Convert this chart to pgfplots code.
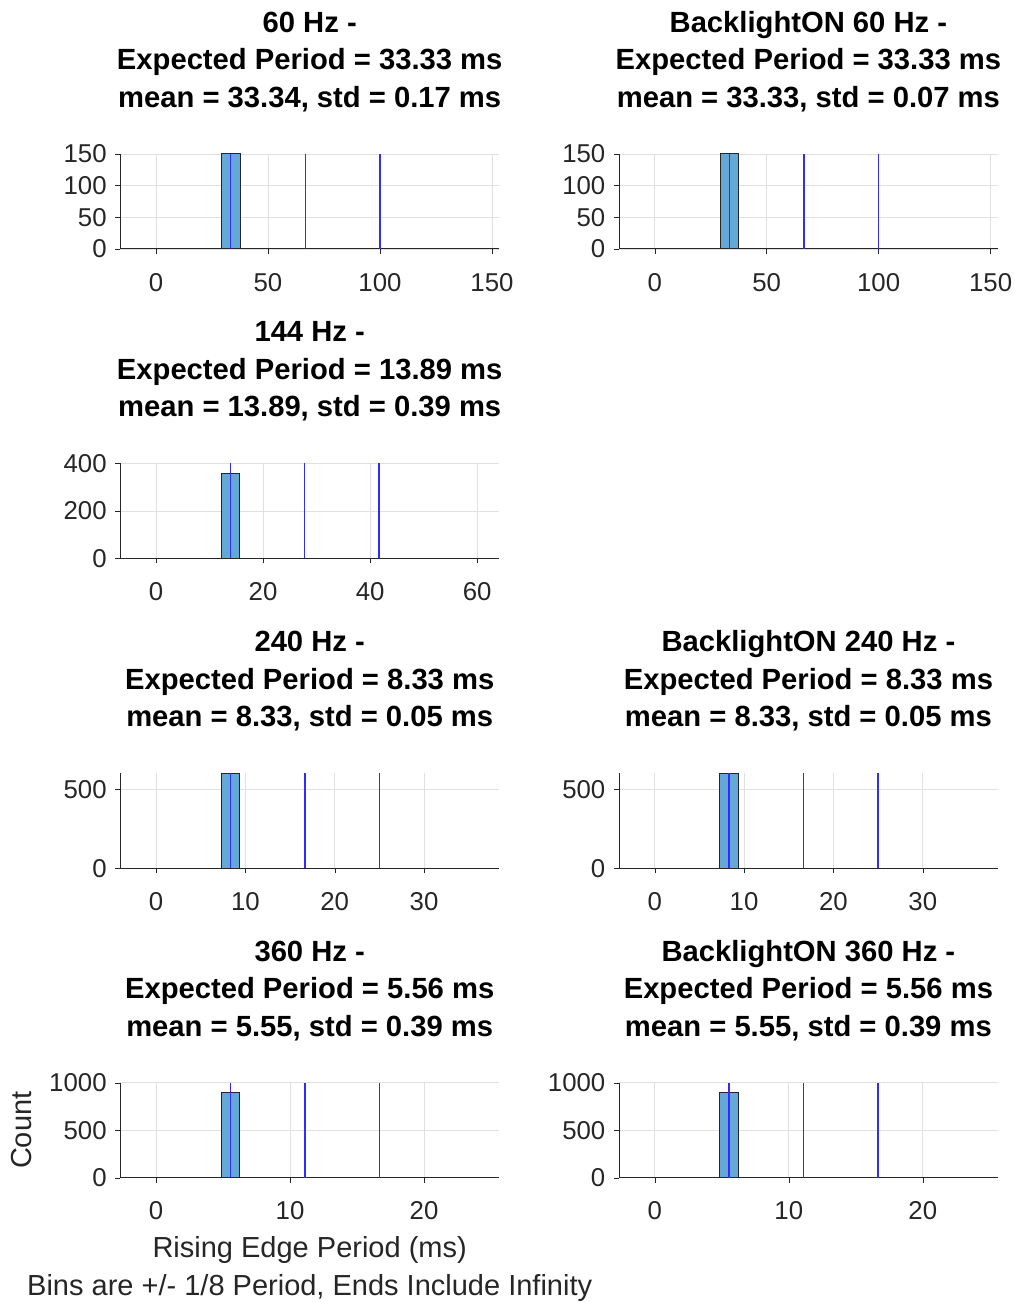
\documentclass[border=0pt]{standalone}
\usepackage{fontspec}
\setmainfont{Liberation Sans}
\usepackage{pgfplots}
\pgfplotsset{compat=1.18}
\definecolor{barfill}{RGB}{100,168,216}
\definecolor{refline}{RGB}{45,45,255}
\definecolor{axgray}{RGB}{38,38,38}
\pgfplotsset{
 hist/.style={
  scale only axis, width=189.4pt, height=47.5pt,
  axis lines*=left, axis line style={axgray, line width=0.5pt},
  grid=major, major grid style={black!12, line width=0.4pt},
  tick align=outside, major tick length=2.5pt, tick style={axgray},
  ymin=0, clip=false,
  ticklabel style={font=\fontsize{12.9}{15}\selectfont, text=axgray},
  xticklabel style={yshift=-6pt}, yticklabel style={xshift=-0.8pt},
  /pgf/number format/assume math mode=true,
  /pgf/number format/1000 sep={},
  scaled ticks=false,
  title style={at={(0.5,1)}, anchor=south, inner sep=0pt, yshift=14.8pt, align=center, font=\fontsize{14.6}{18.75}\selectfont\bfseries},
 },
 barst/.style={fill=barfill, draw=black!85, line width=0.5pt},
 refst/.style={refline, line width=0.8pt},
}
\begin{document}
\begin{tikzpicture}
\useasboundingbox (0,0) rectangle (507.5pt,651pt);
% Row 1 left: 60 Hz
\begin{axis}[hist, at={(60.15pt,526.5pt)}, xmin=-15.95, xmax=153.2, ymax=150,
  xtick={0,50,100,150}, ytick={0,50,100,150},
  title={60 Hz -\\Expected Period = 33.33 ms\\mean = 33.34, std = 0.17 ms}]
\addplot[barst] coordinates {(29.167,0) (29.167,150) (37.5,150) (37.5,0)} -- cycle;
\addplot[refst] coordinates {(33.333,0) (33.333,150)};
\addplot[refst] coordinates {(66.667,0) (66.667,150)};
\addplot[refst] coordinates {(100,0) (100,150)};
\end{axis}
% Row 1 right: BacklightON 60 Hz
\begin{axis}[hist, at={(309.5pt,526.5pt)}, xmin=-15.95, xmax=153.2, ymax=150,
  xtick={0,50,100,150}, ytick={0,50,100,150},
  title={BacklightON 60 Hz -\\Expected Period = 33.33 ms\\mean = 33.33, std = 0.07 ms}]
\addplot[barst] coordinates {(29.167,0) (29.167,150) (37.5,150) (37.5,0)} -- cycle;
\addplot[refst] coordinates {(33.333,0) (33.333,150)};
\addplot[refst] coordinates {(66.667,0) (66.667,150)};
\addplot[refst] coordinates {(100,0) (100,150)};
\end{axis}
% Row 2 left: 144 Hz
\begin{axis}[hist, at={(60.15pt,371.75pt)}, xmin=-6.67, xmax=64.1, ymax=400,
  xtick={0,20,40,60}, ytick={0,200,400},
  title={144 Hz -\\Expected Period = 13.89 ms\\mean = 13.89, std = 0.39 ms}]
\addplot[barst] coordinates {(12.153,0) (12.153,359) (15.625,359) (15.625,0)} -- cycle;
\addplot[refst] coordinates {(13.889,0) (13.889,400)};
\addplot[refst] coordinates {(27.778,0) (27.778,400)};
\addplot[refst] coordinates {(41.667,0) (41.667,400)};
\end{axis}
% Row 3 left: 240 Hz
\begin{axis}[hist, at={(60.15pt,216.8pt)}, xmin=-4.0, xmax=38.4, ymax=600,
  xtick={0,10,20,30}, ytick={0,500},
  title={240 Hz -\\Expected Period = 8.33 ms\\mean = 8.33, std = 0.05 ms}]
\addplot[barst] coordinates {(7.292,0) (7.292,600) (9.375,600) (9.375,0)} -- cycle;
\addplot[refst] coordinates {(8.333,0) (8.333,600)};
\addplot[refst] coordinates {(16.667,0) (16.667,600)};
\addplot[refst] coordinates {(25,0) (25,600)};
\end{axis}
% Row 3 right: BacklightON 240 Hz
\begin{axis}[hist, at={(309.5pt,216.8pt)}, xmin=-4.0, xmax=38.4, ymax=600,
  xtick={0,10,20,30}, ytick={0,500},
  title={BacklightON 240 Hz -\\Expected Period = 8.33 ms\\mean = 8.33, std = 0.05 ms}]
\addplot[barst] coordinates {(7.292,0) (7.292,600) (9.375,600) (9.375,0)} -- cycle;
\addplot[refst] coordinates {(8.333,0) (8.333,600)};
\addplot[refst] coordinates {(16.667,0) (16.667,600)};
\addplot[refst] coordinates {(25,0) (25,600)};
\end{axis}
% Row 4 left: 360 Hz
\begin{axis}[hist, at={(60.15pt,62.1pt)}, xmin=-2.67, xmax=25.6, ymax=1000,
  xtick={0,10,20}, ytick={0,500,1000},
  title={360 Hz -\\Expected Period = 5.56 ms\\mean = 5.55, std = 0.39 ms},
  xlabel={Rising Edge Period (ms)\\Bins are +/- 1/8 Period, Ends Include Infinity},
  xlabel style={at={(axis description cs:0.5,0)}, anchor=north, yshift=-29pt, inner sep=0pt, align=center, font=\fontsize{14.5}{19}\selectfont, text=axgray},
  ylabel={Count},
  ylabel style={at={(axis description cs:0,0.5)}, anchor=center, yshift=49.2pt, inner sep=0pt, font=\fontsize{14.5}{19}\selectfont, text=axgray}]
\addplot[barst] coordinates {(4.861,0) (4.861,893) (6.25,893) (6.25,0)} -- cycle;
\addplot[refst] coordinates {(5.556,0) (5.556,1000)};
\addplot[refst] coordinates {(11.111,0) (11.111,1000)};
\addplot[refst] coordinates {(16.667,0) (16.667,1000)};
\end{axis}
% Row 4 right: BacklightON 360 Hz
\begin{axis}[hist, at={(309.5pt,62.1pt)}, xmin=-2.67, xmax=25.6, ymax=1000,
  xtick={0,10,20}, ytick={0,500,1000},
  title={BacklightON 360 Hz -\\Expected Period = 5.56 ms\\mean = 5.55, std = 0.39 ms}]
\addplot[barst] coordinates {(4.861,0) (4.861,893) (6.25,893) (6.25,0)} -- cycle;
\addplot[refst] coordinates {(5.556,0) (5.556,1000)};
\addplot[refst] coordinates {(11.111,0) (11.111,1000)};
\addplot[refst] coordinates {(16.667,0) (16.667,1000)};
\end{axis}
\end{tikzpicture}
\end{document}
